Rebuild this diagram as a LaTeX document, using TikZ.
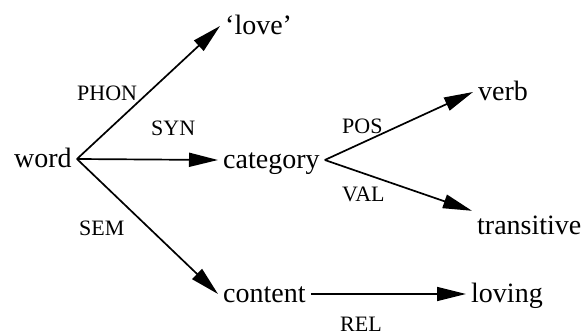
\documentclass[tikz,border=0pt]{standalone}
\usepackage{fontspec}
\setmainfont{Liberation Serif}
\usepackage{tikz}
\usetikzlibrary{arrows.meta}

\begin{document}
\begin{tikzpicture}[x=1pt,y=-1pt,
		feat/.style={anchor=base west,inner xsep=5pt,inner ysep=4pt,text height=20pt,text depth=2pt,font=\fontsize{28}{32}\selectfont},
		attr/.style={anchor=base west,inner sep=0pt,font=\fontsize{22}{26}\selectfont},
		featarrow/.style={line width=1.7pt,-{Triangle[length=29pt,width=14pt]}}]
		\useasboundingbox (0,0) rectangle (586,336);
		\node[feat] (word) at (9,168) {word};
		\node[feat] (love) at (220,35) {‘love’};
		\node[feat] (category) at (218,169) {category};
		\node[feat] (content) at (218,303) {content};
		\node[feat] (verb) at (473,101) {verb};
		\node[feat] (transitive) at (472,235) {transitive};
		\node[feat] (loving) at (466,303) {loving};
		\node[attr] (phon) at (77,101) {PHON};
		\node[attr] (syn) at (151,136) {SYN};
		\node[attr] (pos) at (342,134) {POS};
		\node[attr] (val) at (342,202) {VAL};
		\node[attr] (sem) at (79,236) {SEM};
		\node[attr] (rel) at (340,331) {REL};
		\draw[featarrow] (word.east) -- (love.west);
		\draw[featarrow] (word.east) -- (category.west);
		\draw[featarrow] (word.east) -- (content.west);
		\draw[featarrow] (category.east) -- (verb.west);
		\draw[featarrow] (category.east) -- (transitive.north west);
		\draw[featarrow] (content.east) -- (loving.west);
	\end{tikzpicture}
\end{document}
